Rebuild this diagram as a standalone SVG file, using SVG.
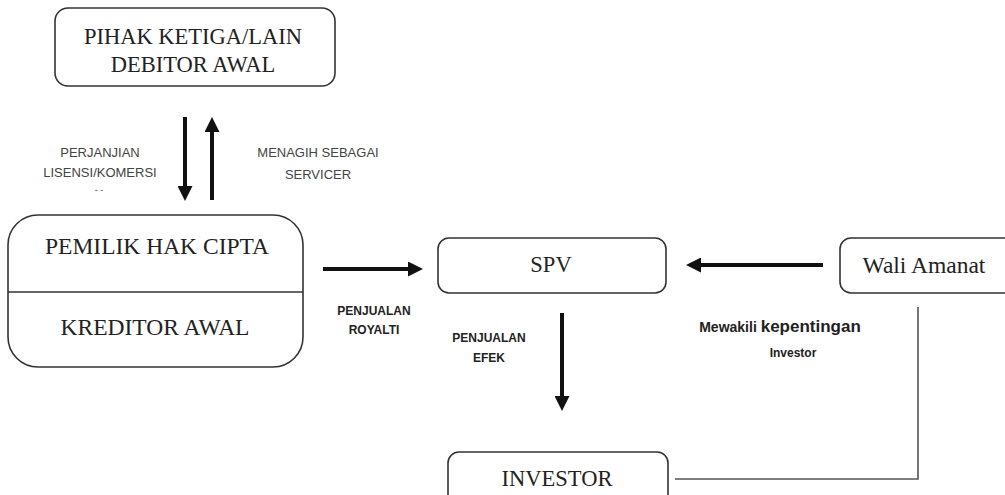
<svg xmlns="http://www.w3.org/2000/svg" width="1005" height="495" viewBox="0 0 1005 495">
  <style>
    .box { fill: #fff; stroke: #333; stroke-width: 1.6; }
    .serif { font-family: "Liberation Serif", "Times New Roman", serif; fill: #222; text-anchor: middle; }
    .lbl { font-family: "Liberation Sans", Arial, sans-serif; font-size: 13px; fill: #444; text-anchor: middle; }
    .blbl { font-family: "Liberation Sans", Arial, sans-serif; font-weight: bold; font-size: 12px; fill: #222; text-anchor: middle; }
    .arrow { stroke: #111; stroke-width: 4; fill: none; }
    .thin { stroke: #555; stroke-width: 1.6; fill: none; }
  </style>
  <defs>
    <marker id="head" markerUnits="userSpaceOnUse" markerWidth="15" markerHeight="15" refX="0" refY="7.5" orient="auto">
      <path d="M0,0 L15,7.5 L0,15 z" fill="#111"/>
    </marker>
  </defs>
  <rect width="1005" height="495" fill="#fff"/>

  <g id="pihak-ketiga">
    <rect class="box" x="55" y="8" width="280" height="78" rx="13"/>
    <text class="serif" x="193" y="44" font-size="22.5">PIHAK KETIGA/LAIN</text>
    <text class="serif" x="193" y="72" font-size="22.5">DEBITOR AWAL</text>
  </g>

  <g id="pemilik">
    <rect class="box" x="8" y="215" width="295" height="152" rx="30"/>
    <line x1="8" y1="292" x2="303" y2="292" stroke="#333" stroke-width="1.6"/>
    <text class="serif" x="157" y="254" font-size="23.5">PEMILIK HAK CIPTA</text>
    <text class="serif" x="155" y="335" font-size="23.5">KREDITOR AWAL</text>
  </g>

  <g id="spv">
    <rect class="box" x="438" y="238" width="228" height="55" rx="11"/>
    <text class="serif" x="551" y="272" font-size="22.5">SPV</text>
  </g>

  <g id="wali-amanat">
    <rect class="box" x="840" y="238" width="175" height="55" rx="11"/>
    <text class="serif" x="924" y="273" font-size="23.5">Wali Amanat</text>
  </g>

  <g id="investor">
    <rect class="box" x="448" y="452" width="220" height="60" rx="11"/>
    <text class="serif" x="557" y="486" font-size="22.5">INVESTOR</text>
  </g>

  <g id="connectors">
    <line class="arrow" x1="185" y1="117" x2="185" y2="186" marker-end="url(#head)"/>
    <line class="arrow" x1="212" y1="200" x2="212" y2="132" marker-end="url(#head)"/>
    <line class="arrow" x1="323" y1="269" x2="408" y2="269" marker-end="url(#head)"/>
    <line class="arrow" x1="823" y1="265" x2="701" y2="265" marker-end="url(#head)"/>
    <line class="arrow" x1="562" y1="313" x2="562" y2="396" marker-end="url(#head)"/>
    <polyline class="thin" points="918,307 918,479 675,479"/>
  </g>

  <g id="labels">
    <text class="lbl" x="100" y="157">PERJANJIAN</text>
    <text class="lbl" x="100" y="177">LISENSI/KOMERSI</text>
    <text class="lbl" x="99" y="193" style="font-size:9px">- -</text>
    <text class="lbl" x="318" y="157">MENAGIH SEBAGAI</text>
    <text class="lbl" x="318" y="179">SERVICER</text>
    <text class="blbl" x="374" y="315">PENJUALAN</text>
    <text class="blbl" x="374" y="334">ROYALTI</text>
    <text class="blbl" x="489" y="342">PENJUALAN</text>
    <text class="blbl" x="489" y="362">EFEK</text>
    <text class="blbl" x="780" y="332" style="font-size:14px"><tspan>Mewakili </tspan><tspan style="font-size:17px">kepentingan</tspan></text>
    <text class="blbl" x="793" y="357">Investor</text>
  </g>
</svg>
